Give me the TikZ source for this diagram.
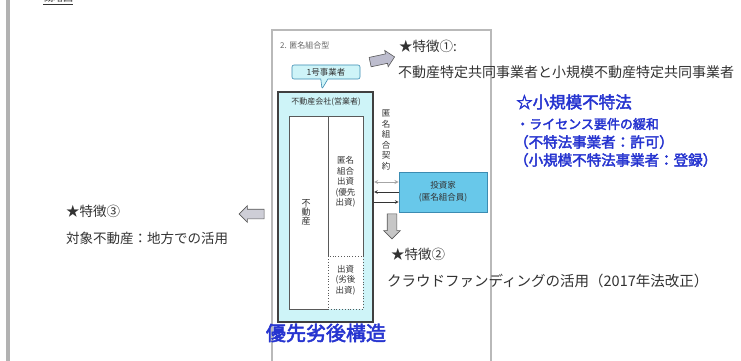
\documentclass[tikz,border=0pt]{standalone}
\usepackage{fontspec}
\setmainfont{Noto Sans CJK JP}
\newfontfamily\jpb[FakeBold=2.6]{Noto Sans CJK JP}
\usetikzlibrary{shapes.arrows,shapes.callouts}
\definecolor{blueT}{RGB}{38,52,208}
\definecolor{lcyan}{RGB}{206,244,248}
\definecolor{invfill}{RGB}{104,200,234}
\definecolor{invdraw}{RGB}{60,140,178}
\definecolor{txt}{RGB}{50,50,50}
\tikzset{
  fs/.style={font=\fontsize{#1}{#1}\selectfont},
  body/.style={text=txt,anchor=west,inner sep=0pt,font=\fontsize{13.5}{14}\selectfont},
  bluetxt/.style={text=blueT,anchor=west,inner sep=0pt},
  box/.style={draw=gray!70!black,line width=0.6pt,inner sep=0pt},
  blockarrow/.style={single arrow,draw=gray!70!black,fill=gray!45,line width=0.6pt,
     minimum height=25pt,inner xsep=0pt,inner ysep=4.5pt,single arrow head extend=3.5pt},
  small/.style={text=txt,inner sep=0pt,align=center,font=\fontsize{8.5}{10.5}\selectfont},
}
\begin{document}
\begin{tikzpicture}[x=1pt,y=-1pt]
\useasboundingbox (0,0) rectangle (741,361);
\clip (0,0) rectangle (741,361);
\fill[white] (0,0) rectangle (741,361);
% left margin line
\fill[gray!60] (6,0) rectangle (10,361);
% top-left cut title
\node[text=txt,inner sep=0pt,fs=10] (toptitle) at (58,-1) {\underline{概略図}};

% outer frame
\node[draw=gray!55,line width=1.2pt,minimum width=219pt,minimum height=340pt,inner sep=0pt] (outer) at (381.5,200) {};
\node[anchor=west,inner sep=0pt,text=gray!80!black,fs=8] (title) at (280,45) {2. 匿名組合型};

% contract (operator) box
\node[draw=black!75,line width=2.2pt,fill=lcyan,minimum width=95pt,minimum height=230pt,inner sep=0pt] (contract) at (325.5,207) {};
\node[small,fs=8] (clabel) at (326,102) {不動産会社(営業者)};
\node[box,fill=white,minimum width=39pt,minimum height=193pt] (assets) at (308.5,212.5) {};
\node[box,fill=white,minimum width=35pt,minimum height=140pt] (pref) at (345.5,186) {};
\node[draw=gray!70!black,fill=white,dotted,line width=0.8pt,minimum width=35pt,minimum height=53pt,inner sep=0pt] (sub) at (345.5,282.5) {};
\node[small,fs=9] (assetstxt) at (306,212) {\fontsize{9}{11}\selectfont 不\\動\\産};
\node[small] (preftxt) at (345.5,182) {\fontsize{8.5}{10.5}\selectfont 匿名\\組合\\出資\\(優先\\出資)};
\node[small] (subtxt) at (345.5,280) {\fontsize{8.5}{11}\selectfont 出資\\(劣後\\出資)};

% operator callout
\node[rectangle callout,draw=invdraw,fill=lcyan,line width=0.6pt,rounded corners=2pt,
      minimum width=68pt,minimum height=14pt,inner sep=0pt,text=txt,fs=8.5,
      callout absolute pointer={(322,89)}] (op) at (326,72) {1号事業者};

% investor
\node[draw=invdraw,fill=invfill,line width=1pt,minimum width=88pt,minimum height=40pt,inner sep=0pt,
      align=center,text=txt,font=\fontsize{8.5}{12}\selectfont] (inv) at (443,192) {投資家\\(匿名組合員)};

% contract label (vertical)
\node[small,font=\fontsize{8.5}{10.5}\selectfont] (ctr) at (386,140) {匿\\名\\組\\合\\契\\約};

% connectors
\draw[gray!70,line width=0.8pt,<->,>=stealth] (contract.east |- 0,182) -- (inv.west |- 0,182);
\draw[black!80,line width=0.6pt,->,>=stealth] (inv.west |- 0,192) -- (contract.east |- 0,192);
\draw[black!80,line width=0.6pt,->,>=stealth] (contract.east |- 0,202) -- (inv.west |- 0,202);

% block arrows
\node[blockarrow,fill=blue!15!gray!45,rotate=12] (a1) at (380,60) {};
\node[blockarrow,rotate=-90] (a2) at (392,224) {};
\node[blockarrow,fill=blue!10!gray!35,rotate=180] (a3) at (254,214) {};

% feature texts
\node[body] (f1) at (399,46) {★特徴①:};
\node[body,font=\fontsize{14}{14}\selectfont] (f1t) at (398,72) {不動産特定共同事業者と小規模不動産特定共同事業者};
\node[body] (f2) at (391,254) {★特徴②};
\node[body,font=\fontsize{14.5}{15}\selectfont] (f2t) at (387,281) {クラウドファンディングの活用（2017年法改正）};
\node[body] (f3) at (66,211) {★特徴③};
\node[body] (f3t) at (66,238) {対象不動産：地方での活用};

% blue texts
\node[bluetxt,font=\jpb\fontsize{16.5}{17}\selectfont] (b1) at (516,102) {☆小規模不特法};
\node[bluetxt,font=\jpb\fontsize{13}{14}\selectfont] (b2) at (516,124) {・ライセンス要件の緩和};
\node[bluetxt,font=\jpb\fontsize{14.5}{15}\selectfont] (b3) at (514,142) {（不特法事業者：許可）};
\node[bluetxt,font=\jpb\fontsize{14.5}{15}\selectfont] (b4) at (514,160) {（小規模不特法事業者：登録）};
\node[text=blueT,inner sep=0pt,font=\jpb\fontsize{20}{20}\selectfont] (b5) at (326,333) {優先劣後構造};
\end{tikzpicture}
\end{document}
